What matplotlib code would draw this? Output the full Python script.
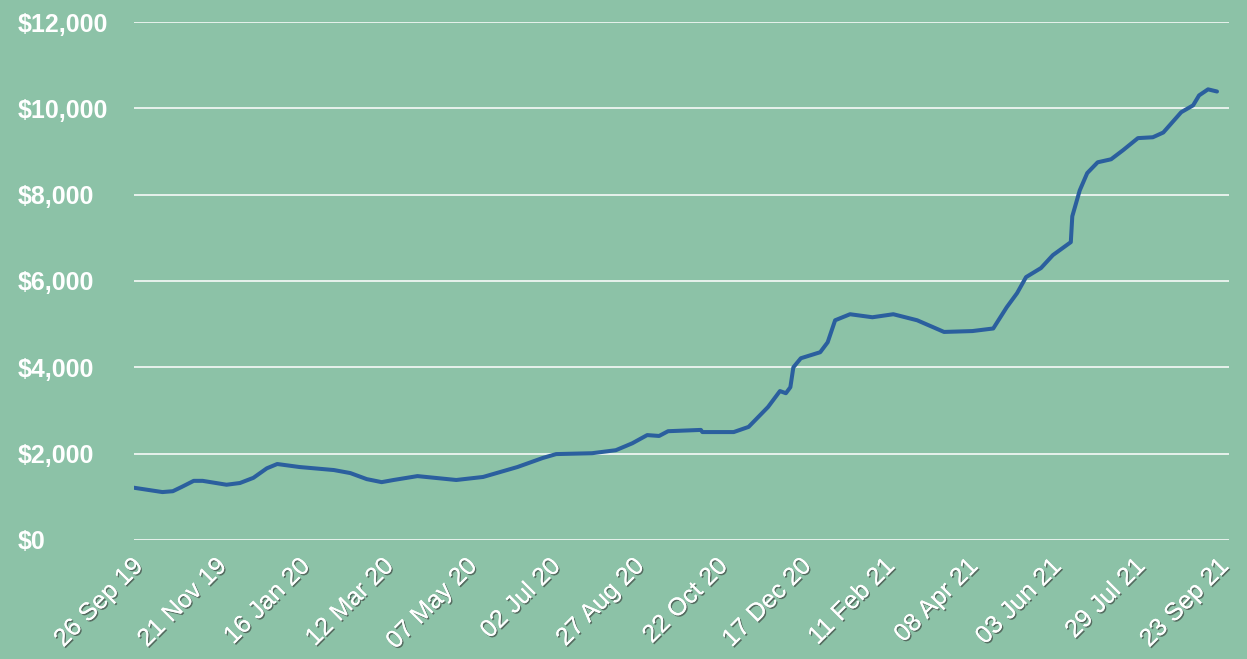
import matplotlib
matplotlib.use("Agg")
import matplotlib.pyplot as plt
import matplotlib.patheffects as pe
import matplotlib.dates as mdates
import matplotlib.transforms as mtransforms
import pandas as pd

dates = [
    "2019-09-26", "2019-10-15", "2019-10-22", "2019-10-28", "2019-11-05", "2019-11-11",
    "2019-11-27", "2019-12-06", "2019-12-15", "2019-12-24", "2019-12-31", "2020-01-15",
    "2020-02-07", "2020-02-18", "2020-02-29", "2020-03-10", "2020-03-18", "2020-04-03",
    "2020-04-29", "2020-05-17", "2020-06-09", "2020-06-26", "2020-07-05", "2020-07-29",
    "2020-08-14", "2020-08-25", "2020-09-04", "2020-09-12", "2020-09-18", "2020-10-10",
    "2020-10-11", "2020-11-01", "2020-11-11", "2020-11-24", "2020-12-02", "2020-12-06",
    "2020-12-09", "2020-12-11", "2020-12-16", "2020-12-29", "2021-01-03", "2021-01-08",
    "2021-01-18", "2021-02-02", "2021-02-16", "2021-03-04", "2021-03-22", "2021-04-10",
    "2021-04-24", "2021-05-03", "2021-05-10", "2021-05-16", "2021-05-26", "2021-06-03",
    "2021-06-15", "2021-06-16", "2021-06-21", "2021-06-26", "2021-07-03", "2021-07-12",
    "2021-07-20", "2021-07-30", "2021-08-09", "2021-08-16", "2021-08-28", "2021-09-05",
    "2021-09-09", "2021-09-15", "2021-09-21",
]
values = [
    1210, 1110, 1130, 1230, 1370, 1370,
    1280, 1320, 1440, 1660, 1760, 1690,
    1620, 1550, 1410, 1340, 1390, 1480,
    1390, 1460, 1690, 1900, 1990, 2010,
    2080, 2240, 2430, 2410, 2520, 2550,
    2500, 2500, 2620, 3080, 3450, 3400,
    3540, 4000, 4210, 4350, 4580, 5090,
    5230, 5160, 5230, 5090, 4820, 4840,
    4900, 5390, 5720, 6090, 6300, 6600,
    6900, 7500, 8100, 8500, 8750, 8820,
    9030, 9310, 9330, 9440, 9910, 10070,
    10300, 10440, 10390,
]
tick_dates = pd.date_range("2019-09-26", periods=14, freq="56D")
y_ticks = [0, 2000, 4000, 6000, 8000, 10000, 12000]

bg = "#8cc2a7"
line_color = "#2b5f9e"

plt.rcParams["font.family"] = ["Liberation Sans", "DejaVu Sans"]

fig = plt.figure(figsize=(12.47, 6.59), dpi=100, facecolor=bg)
ax = fig.add_axes([0.1075, 0.1806, 0.878, 0.786])
ax.set_facecolor(bg)

x = pd.to_datetime(dates)
ax.plot(x, values, color=line_color, linewidth=2.9, solid_capstyle="round", solid_joinstyle="round")

ax.set_ylim(0, 12000)
ax.set_xlim(pd.Timestamp("2019-09-26"), pd.Timestamp("2019-09-26") + pd.Timedelta(days=734))
ax.set_yticks(y_ticks)
ax.set_yticklabels([f"${v:,}" for v in y_ticks])
ax.yaxis.grid(True, color="white", linewidth=1.1)
ax.set_axisbelow(True)

ax.set_xticks(tick_dates)
ax.xaxis.set_major_formatter(mdates.DateFormatter("%d %b %y"))

for s in ax.spines.values():
    s.set_visible(False)
ax.tick_params(axis="both", length=0)
ax.tick_params(axis="y", pad=84, labelsize=18, labelcolor="white")
ax.tick_params(axis="x", pad=16, labelsize=18, labelcolor="white")

for lbl in ax.get_yticklabels():
    lbl.set_horizontalalignment("left")
    lbl.set_fontweight("bold")

shift = mtransforms.ScaledTranslation(5 / 100, 0, fig.dpi_scale_trans)
for lbl in ax.get_xticklabels():
    lbl.set_rotation(45)
    lbl.set_rotation_mode("anchor")
    lbl.set_horizontalalignment("right")
    lbl.set_verticalalignment("center")
    lbl.set_transform(lbl.get_transform() + shift)
    lbl.set_path_effects([pe.withSimplePatchShadow(offset=(1, -1), shadow_rgbFace="#333333", alpha=0.6),
                          pe.Normal()])

fig.savefig("out.png", dpi=100, facecolor=bg)
